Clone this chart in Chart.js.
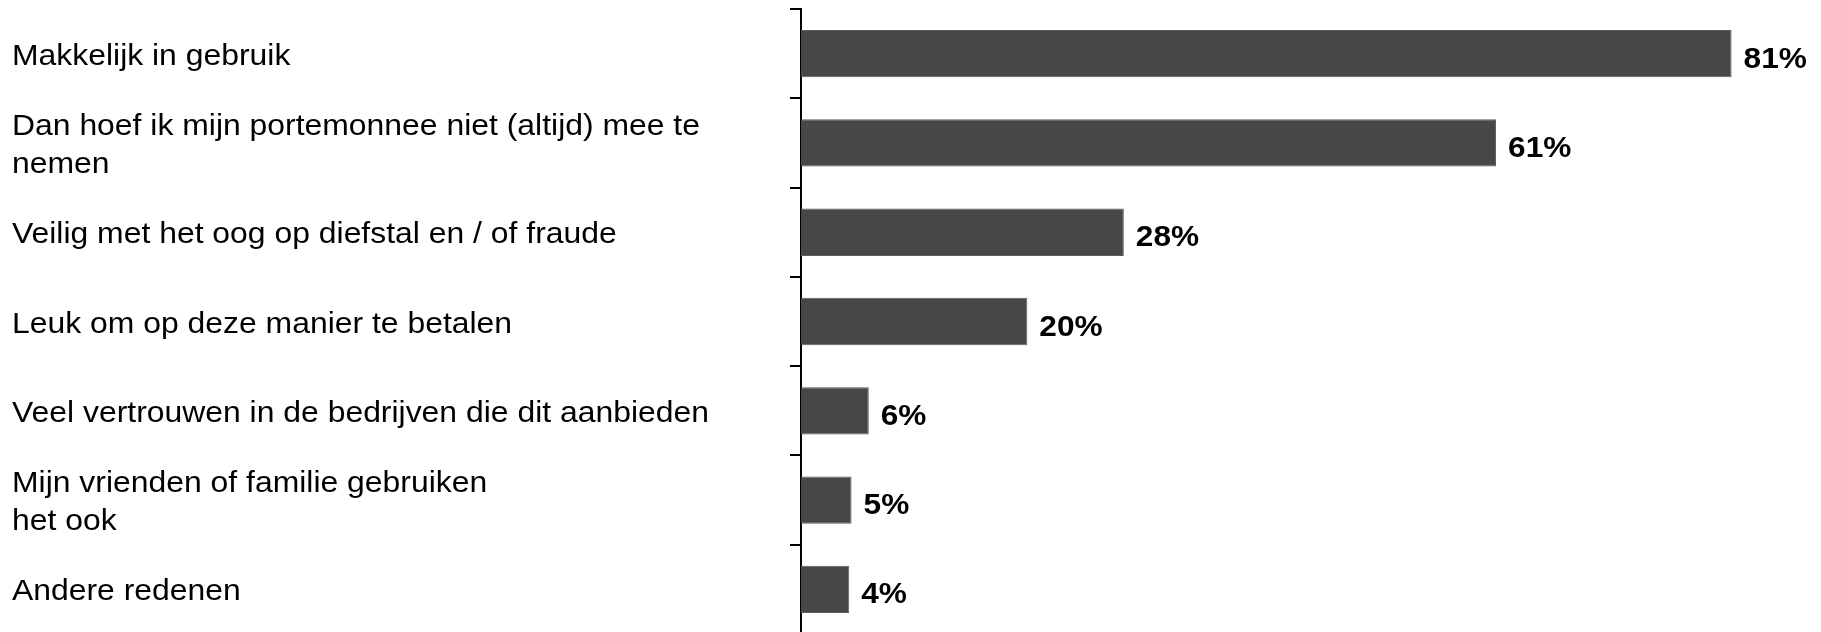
<!DOCTYPE html>
<html lang="nl">
<head>
    <meta charset="UTF-8">
    <title>Redenen</title>
    <script src="https://cdn.jsdelivr.net/npm/chart.js"></script>
    <style>
        body {
            margin: 0;
            background: #ffffff;
            overflow: hidden;
        }

        .chart-wrap {
            position: relative;
            width: 1821px;
            height: 643px;
        }
    </style>
</head>
<body>
    <div class="chart-wrap">
        <canvas id="chart"></canvas>
    </div>

    <script>
        // data
        const categories = [
            'Makkelijk in gebruik',
            ['Dan hoef ik mijn portemonnee niet (altijd) mee te', 'nemen'],
            'Veilig met het oog op diefstal en / of fraude',
            'Leuk om op deze manier te betalen',
            'Veel vertrouwen in de bedrijven die dit aanbieden',
            ['Mijn vrienden of familie gebruiken', 'het ook'],
            'Andere redenen'
        ];
        const values = [81, 60.5, 28.1, 19.7, 5.9, 4.4, 4.2];
        const valueLabels = ['81%', '61%', '28%', '20%', '6%', '5%', '4%'];

        const font = '"Liberation Sans", Arial, sans-serif';
        const stretch = 1.09; // the original text is a bit wider than plain Arial

        // percentage text to the right of each bar
        const valueLabelPlugin = {
            id: 'valueLabels',
            afterDatasetsDraw(chart) {
                const ctx = chart.ctx;
                const meta = chart.getDatasetMeta(0);
                meta.data.forEach((bar, i) => {
                    ctx.save();
                    ctx.fillStyle = '#000000';
                    ctx.font = 'bold 29px ' + font;
                    ctx.textAlign = 'left';
                    ctx.textBaseline = 'alphabetic';
                    ctx.translate(bar.x + 12, bar.y + 14);
                    ctx.scale(stretch, 1);
                    ctx.fillText(valueLabels[i], 0, 0);
                    ctx.restore();
                });
            }
        };

        new Chart(document.getElementById('chart'), {
            type: 'bar',
            data: {
                labels: categories,
                datasets: [{
                    data: values,
                    backgroundColor: '#474747',
                    borderColor: '#5c5c5c',
                    borderWidth: 1,
                    categoryPercentage: 1,
                    barPercentage: 0.53
                }]
            },
            plugins: [valueLabelPlugin],
            options: {
                indexAxis: 'y',
                responsive: true,
                maintainAspectRatio: false,
                animation: false,
                layout: {
                    padding: { left: 12, right: 9, top: 9, bottom: 9 }
                },
                plugins: {
                    legend: { display: false },
                    tooltip: { enabled: false }
                },
                scales: {
                    x: {
                        display: false,
                        min: 0,
                        max: 88
                    },
                    y: {
                        afterFit(scale) {
                            scale.width = 789;
                            scale.paddingTop = 0;
                            scale.paddingBottom = 0;
                            if (!scale._stretched) {
                                const orig = scale.drawLabels;
                                scale.drawLabels = function (area) {
                                    const ctx = this.ctx;
                                    ctx.save();
                                    ctx.translate(this.left, 3);
                                    ctx.scale(1.1, 1);
                                    ctx.translate(-this.left, 0);
                                    orig.call(this, area);
                                    ctx.restore();
                                };
                                scale._stretched = true;
                            }
                        },
                        border: { color: '#000000', width: 2 },
                        grid: {
                            drawOnChartArea: false,
                            color: '#000000',
                            lineWidth: 2,
                            tickLength: 11
                        },
                        ticks: {
                            autoSkip: false,
                            crossAlign: 'far',
                            color: '#000000',
                            font: { family: font, size: 29, lineHeight: 1.3 }
                        }
                    }
                }
            }
        });
    </script>
</body>
</html>
